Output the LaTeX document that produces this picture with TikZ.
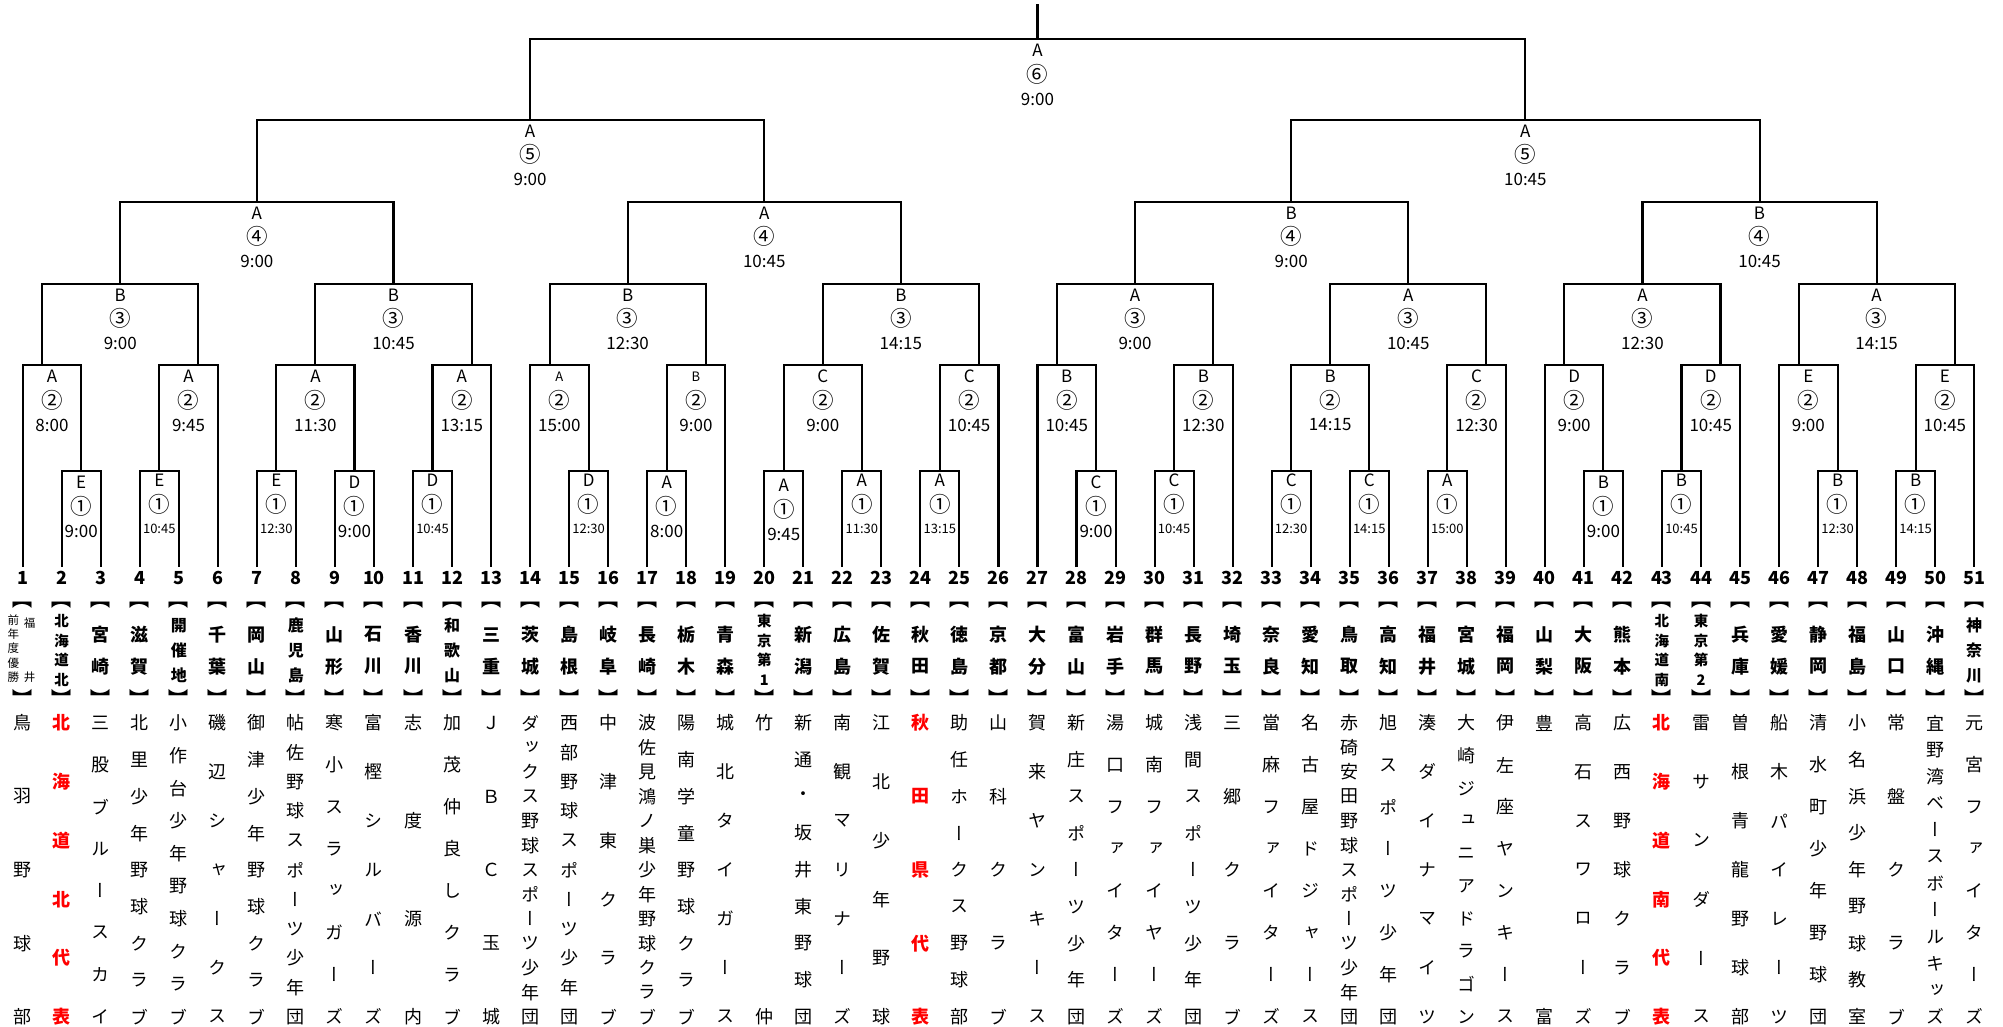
\documentclass[tikz,border=0pt]{standalone}
\usepackage{fontspec}
\setmainfont{Noto Sans CJK JP}
\newfontfamily\jpv[RawFeature=+vert]{Noto Sans CJK JP}
\tikzset{
  bline/.style={line width=2.1pt, line join=miter},
  lab/.style={inner sep=0pt, font=\fontsize{17}{17}\selectfont},
  labs/.style={inner sep=0pt, font=\fontsize{13}{13}\selectfont},
  circ/.style={inner sep=0pt, font=\fontsize{21.5}{21.5}\selectfont},
  num/.style={inner sep=0pt, font=\bfseries\fontsize{18}{18}\selectfont},
  pref/.style={inner sep=0pt, font=\jpv\bfseries\fontsize{18}{18}\selectfont},
  prefm/.style={inner sep=0pt, font=\jpv\bfseries\fontsize{16}{16}\selectfont},
  prefs/.style={inner sep=0pt, font=\jpv\bfseries\fontsize{14.5}{14.5}\selectfont},
  brk/.style={inner sep=0pt, font=\jpv\bfseries\fontsize{20}{20}\selectfont},
  tname/.style={inner sep=0pt, font=\jpv\fontsize{18}{18}\selectfont},
  tred/.style={inner sep=0pt, text=red, font=\jpv\bfseries\fontsize{18}{18}\selectfont},
  pnote/.style={inner sep=0pt, font=\jpv\fontsize{11.5}{12}\selectfont}
}
\newcommand\Hx[1]{22.7+19.515*(#1)}
\newcommand\Brk[6]{%
  \coordinate (#1-a) at ({\Hx{#2}},#5);
  \coordinate (#1-b) at ({\Hx{#3}},#6);
  \coordinate (#1-c) at ({\Hx{#3}},#4);
  \draw[bline] (#1-a) |- (#1-c) -- (#1-b);
}
\newcommand\Lbl[8]{%
  \node[#8] (#1-l) at ({\Hx{#2}},{#3+11.5}) {#4};
  \node[circ] (#1-o) at ({\Hx{#2}},{#3+35}) {#5};
  \node[#7] (#1-t) at ({\Hx{#2}},{#3+60}) {#6};
}
\newcommand\Pref[4]{%
  \foreach \c [count=\k] in {#4} {\xdef\npref{\k}}
  \foreach \c [count=\k] in {#4} {
    \node[#3] (p#1-\k) at ({\Hx{2*#1-2}},{650.5+#2*(\k-(\npref+1)/2)}) {\c};
  }
  \node[brk] (bo#1) at ({\Hx{2*#1-2}},605) {︻};
  \node[brk] (bc#1) at ({\Hx{2*#1-2}},698) {︼};
}
\newcommand\TName[3]{%
  \foreach \c [count=\k] in {#3} {\xdef\nname{\k}}
  \foreach \c [count=\k] in {#3} {
    \node[#2] (n#1-\k) at ({\Hx{2*#1-2}},{723+293.7*(\k-1)/(\nname-1)}) {\c};
  }
}
\begin{document}
\begin{tikzpicture}[x=1pt,y=-1pt]
\useasboundingbox (0,0) rectangle (2003,1026);
\fill[white] (0,0) rectangle (2003,1026);
% ---------- final ----------
\coordinate (champ) at ({\Hx{52}},4);
\coordinate (Fm) at ({\Hx{52}},39);
\draw[bline] (champ) -- (Fm);
\Brk{F}{26}{77}{39}{119.7}{119.7}
\Lbl{F}{52}{39}{A}{⑥}{9:00}{lab}{lab}
% ---------- round 5 ----------
\Brk{R5a}{12}{38}{119.7}{201.7}{201.7}
\Brk{R5b}{65}{89}{119.7}{201.7}{201.7}
\Lbl{R5a}{26}{119.7}{A}{⑤}{9:00}{lab}{lab}
\Lbl{R5b}{77}{119.7}{A}{⑤}{10:45}{lab}{lab}
% ---------- round 4 ----------
\Brk{R4a}{5}{19}{201.7}{283.7}{283.7}
\Brk{R4b}{31}{45}{201.7}{283.7}{283.7}
\Brk{R4c}{57}{71}{201.7}{283.7}{283.7}
\Brk{R4d}{83}{95}{201.7}{283.7}{283.7}
\Lbl{R4a}{12}{201.7}{A}{④}{9:00}{lab}{lab}
\Lbl{R4b}{38}{201.7}{A}{④}{10:45}{lab}{lab}
\Lbl{R4c}{65}{201.7}{B}{④}{9:00}{lab}{lab}
\Lbl{R4d}{89}{201.7}{B}{④}{10:45}{lab}{lab}
% ---------- round 3 ----------
\Brk{R3a}{1}{9}{283.7}{365}{365}
\Brk{R3b}{15}{23}{283.7}{365}{365}
\Brk{R3c}{27}{35}{283.7}{365}{365}
\Brk{R3d}{41}{49}{283.7}{365}{365}
\Brk{R3e}{53}{61}{283.7}{365}{365}
\Brk{R3f}{67}{75}{283.7}{365}{365}
\Brk{R3g}{79}{87}{283.7}{365}{365}
\Brk{R3h}{91}{99}{283.7}{365}{365}
\Lbl{R3a}{5}{283.7}{B}{③}{9:00}{lab}{lab}
\Lbl{R3b}{19}{283.7}{B}{③}{10:45}{lab}{lab}
\Lbl{R3c}{31}{283.7}{B}{③}{12:30}{lab}{lab}
\Lbl{R3d}{45}{283.7}{B}{③}{14:15}{lab}{lab}
\Lbl{R3e}{57}{283.7}{A}{③}{9:00}{lab}{lab}
\Lbl{R3f}{71}{283.7}{A}{③}{10:45}{lab}{lab}
\Lbl{R3g}{83}{283.7}{A}{③}{12:30}{lab}{lab}
\Lbl{R3h}{95}{283.7}{A}{③}{14:15}{lab}{lab}
% ---------- round 2 ----------
\Brk{R2a}{0}{3}{365}{567}{471}
\Brk{R2b}{7}{10}{365}{471}{567}
\Brk{R2c}{13}{17}{365}{471}{471}
\Brk{R2d}{21}{24}{365}{471}{567}
\Brk{R2e}{26}{29}{365}{567}{471}
\Brk{R2f}{33}{36}{365}{471}{567}
\Brk{R2g}{39}{43}{365}{471}{471}
\Brk{R2h}{47}{50}{365}{471}{567}
\Brk{R2i}{52}{55}{365}{567}{471}
\Brk{R2j}{59}{62}{365}{471}{567}
\Brk{R2k}{65}{69}{365}{471}{471}
\Brk{R2l}{73}{76}{365}{471}{567}
\Brk{R2m}{78}{81}{365}{567}{471}
\Brk{R2n}{85}{88}{365}{471}{567}
\Brk{R2o}{90}{93}{365}{567}{471}
\Brk{R2p}{97}{100}{365}{471}{567}
\Lbl{R2a}{1.5}{365}{A}{②}{8:00}{lab}{lab}
\Lbl{R2b}{8.5}{365}{A}{②}{9:45}{lab}{lab}
\Lbl{R2c}{15}{365}{A}{②}{11:30}{lab}{lab}
\Lbl{R2d}{22.5}{365}{A}{②}{13:15}{lab}{lab}
\Lbl{R2e}{27.5}{365}{A}{②}{15:00}{lab}{labs}
\Lbl{R2f}{34.5}{365}{B}{②}{9:00}{lab}{labs}
\Lbl{R2g}{41}{365}{C}{②}{9:00}{lab}{lab}
\Lbl{R2h}{48.5}{365}{C}{②}{10:45}{lab}{lab}
\Lbl{R2i}{53.5}{365}{B}{②}{10:45}{lab}{lab}
\Lbl{R2j}{60.5}{365}{B}{②}{12:30}{lab}{lab}
\Lbl{R2k}{67}{365}{B}{②}{14:15}{lab}{lab}
\Lbl{R2l}{74.5}{365}{C}{②}{12:30}{lab}{lab}
\Lbl{R2m}{79.5}{365}{D}{②}{9:00}{lab}{lab}
\Lbl{R2n}{86.5}{365}{D}{②}{10:45}{lab}{lab}
\Lbl{R2o}{91.5}{365}{E}{②}{9:00}{lab}{lab}
\Lbl{R2p}{98.5}{365}{E}{②}{10:45}{lab}{lab}
% ---------- round 1 ----------
\Brk{R1a}{2}{4}{471}{567}{567}
\Brk{R1b}{6}{8}{471}{567}{567}
\Brk{R1c}{12}{14}{471}{567}{567}
\Brk{R1d}{16}{18}{471}{567}{567}
\Brk{R1e}{20}{22}{471}{567}{567}
\Brk{R1f}{28}{30}{471}{567}{567}
\Brk{R1g}{32}{34}{471}{567}{567}
\Brk{R1h}{38}{40}{471}{567}{567}
\Brk{R1i}{42}{44}{471}{567}{567}
\Brk{R1j}{46}{48}{471}{567}{567}
\Brk{R1k}{54}{56}{471}{567}{567}
\Brk{R1l}{58}{60}{471}{567}{567}
\Brk{R1m}{64}{66}{471}{567}{567}
\Brk{R1n}{68}{70}{471}{567}{567}
\Brk{R1o}{72}{74}{471}{567}{567}
\Brk{R1p}{80}{82}{471}{567}{567}
\Brk{R1q}{84}{86}{471}{567}{567}
\Brk{R1r}{92}{94}{471}{567}{567}
\Brk{R1s}{96}{98}{471}{567}{567}
\Lbl{R1a}{3}{471}{E}{①}{9:00}{lab}{lab}
\Lbl{R1b}{7}{469}{E}{①}{10:45}{labs}{lab}
\Lbl{R1c}{13}{469}{E}{①}{12:30}{labs}{lab}
\Lbl{R1d}{17}{471}{D}{①}{9:00}{lab}{lab}
\Lbl{R1e}{21}{469}{D}{①}{10:45}{labs}{lab}
\Lbl{R1f}{29}{469}{D}{①}{12:30}{labs}{lab}
\Lbl{R1g}{33}{471}{A}{①}{8:00}{lab}{lab}
\Lbl{R1h}{39}{474}{A}{①}{9:45}{lab}{lab}
\Lbl{R1i}{43}{469}{A}{①}{11:30}{labs}{lab}
\Lbl{R1j}{47}{469}{A}{①}{13:15}{labs}{lab}
\Lbl{R1k}{55}{471}{C}{①}{9:00}{lab}{lab}
\Lbl{R1l}{59}{469}{C}{①}{10:45}{labs}{lab}
\Lbl{R1m}{65}{469}{C}{①}{12:30}{labs}{lab}
\Lbl{R1n}{69}{469}{C}{①}{14:15}{labs}{lab}
\Lbl{R1o}{73}{469}{A}{①}{15:00}{labs}{lab}
\Lbl{R1p}{81}{471}{B}{①}{9:00}{lab}{lab}
\Lbl{R1q}{85}{469}{B}{①}{10:45}{labs}{lab}
\Lbl{R1r}{93}{469}{B}{①}{12:30}{labs}{lab}
\Lbl{R1s}{97}{469}{B}{①}{14:15}{labs}{lab}
% ---------- team numbers ----------
\foreach \i in {1,...,51} {\node[num] (num\i) at ({\Hx{2*\i-2}},578) {\i};}
% ---------- prefectures ----------
\foreach \c [count=\k] in {前,年,度,優,勝} {\node[pnote] (pz\k) at (13.3,{620+14.25*(\k-1)}) {\c};}
\node[pnote] (pf1) at (29.5,623) {福};
\node[pnote] (pf2) at (29.5,677) {井};
\node[brk] (bo1) at ({\Hx{0}},605) {︻};
\node[brk] (bc1) at ({\Hx{0}},698) {︼};
\Pref{2}{19.7}{prefs}{北,海,道,北}
\Pref{3}{31.7}{pref}{宮,崎}
\Pref{4}{31.7}{pref}{滋,賀}
\Pref{5}{25}{prefm}{開,催,地}
\Pref{6}{31.7}{pref}{千,葉}
\Pref{7}{31.7}{pref}{岡,山}
\Pref{8}{25}{prefm}{鹿,児,島}
\Pref{9}{31.7}{pref}{山,形}
\Pref{10}{31.7}{pref}{石,川}
\Pref{11}{31.7}{pref}{香,川}
\Pref{12}{25}{prefm}{和,歌,山}
\Pref{13}{31.7}{pref}{三,重}
\Pref{14}{31.7}{pref}{茨,城}
\Pref{15}{31.7}{pref}{島,根}
\Pref{16}{31.7}{pref}{岐,阜}
\Pref{17}{31.7}{pref}{長,崎}
\Pref{18}{31.7}{pref}{栃,木}
\Pref{19}{31.7}{pref}{青,森}
\Pref{20}{19.7}{prefs}{東,京,第,1}
\Pref{21}{31.7}{pref}{新,潟}
\Pref{22}{31.7}{pref}{広,島}
\Pref{23}{31.7}{pref}{佐,賀}
\Pref{24}{31.7}{pref}{秋,田}
\Pref{25}{31.7}{pref}{徳,島}
\Pref{26}{31.7}{pref}{京,都}
\Pref{27}{31.7}{pref}{大,分}
\Pref{28}{31.7}{pref}{富,山}
\Pref{29}{31.7}{pref}{岩,手}
\Pref{30}{31.7}{pref}{群,馬}
\Pref{31}{31.7}{pref}{長,野}
\Pref{32}{31.7}{pref}{埼,玉}
\Pref{33}{31.7}{pref}{奈,良}
\Pref{34}{31.7}{pref}{愛,知}
\Pref{35}{31.7}{pref}{鳥,取}
\Pref{36}{31.7}{pref}{高,知}
\Pref{37}{31.7}{pref}{福,井}
\Pref{38}{31.7}{pref}{宮,城}
\Pref{39}{31.7}{pref}{福,岡}
\Pref{40}{31.7}{pref}{山,梨}
\Pref{41}{31.7}{pref}{大,阪}
\Pref{42}{31.7}{pref}{熊,本}
\Pref{43}{19.7}{prefs}{北,海,道,南}
\Pref{44}{19.7}{prefs}{東,京,第,2}
\Pref{45}{31.7}{pref}{兵,庫}
\Pref{46}{31.7}{pref}{愛,媛}
\Pref{47}{31.7}{pref}{静,岡}
\Pref{48}{31.7}{pref}{福,島}
\Pref{49}{31.7}{pref}{山,口}
\Pref{50}{31.7}{pref}{沖,縄}
\Pref{51}{25}{prefm}{神,奈,川}
% ---------- team names ----------
\TName{1}{tname}{鳥,羽,野,球,部}
\TName{2}{tred}{北,海,道,北,代,表}
\TName{3}{tname}{三,股,ブ,ル,ー,ス,カ,イ}
\TName{4}{tname}{北,里,少,年,野,球,ク,ラ,ブ}
\TName{5}{tname}{小,作,台,少,年,野,球,ク,ラ,ブ}
\TName{6}{tname}{磯,辺,シ,ャ,ー,ク,ス}
\TName{7}{tname}{御,津,少,年,野,球,ク,ラ,ブ}
\TName{8}{tname}{帖,佐,野,球,ス,ポ,ー,ツ,少,年,団}
\TName{9}{tname}{寒,小,ス,ラ,ッ,ガ,ー,ズ}
\TName{10}{tname}{富,樫,シ,ル,バ,ー,ズ}
\TName{11}{tname}{志,度,源,内}
\TName{12}{tname}{加,茂,仲,良,し,ク,ラ,ブ}
\TName{13}{tname}{Ｊ,Ｂ,Ｃ,玉,城}
\TName{14}{tname}{ダ,ッ,ク,ス,野,球,ス,ポ,ー,ツ,少,年,団}
\TName{15}{tname}{西,部,野,球,ス,ポ,ー,ツ,少,年,団}
\TName{16}{tname}{中,津,東,ク,ラ,ブ}
\TName{17}{tname}{波,佐,見,鴻,ノ,巣,少,年,野,球,ク,ラ,ブ}
\TName{18}{tname}{陽,南,学,童,野,球,ク,ラ,ブ}
\TName{19}{tname}{城,北,タ,イ,ガ,ー,ス}
\TName{20}{tname}{竹,仲}
\TName{21}{tname}{新,通,・,坂,井,東,野,球,団}
\TName{22}{tname}{南,観,マ,リ,ナ,ー,ズ}
\TName{23}{tname}{江,北,少,年,野,球}
\TName{24}{tred}{秋,田,県,代,表}
\TName{25}{tname}{助,任,ホ,ー,ク,ス,野,球,部}
\TName{26}{tname}{山,科,ク,ラ,ブ}
\TName{27}{tname}{賀,来,ヤ,ン,キ,ー,ス}
\TName{28}{tname}{新,庄,ス,ポ,ー,ツ,少,年,団}
\TName{29}{tname}{湯,口,フ,ァ,イ,タ,ー,ズ}
\TName{30}{tname}{城,南,フ,ァ,イ,ヤ,ー,ズ}
\TName{31}{tname}{浅,間,ス,ポ,ー,ツ,少,年,団}
\TName{32}{tname}{三,郷,ク,ラ,ブ}
\TName{33}{tname}{當,麻,フ,ァ,イ,タ,ー,ズ}
\TName{34}{tname}{名,古,屋,ド,ジ,ャ,ー,ス}
\TName{35}{tname}{赤,碕,安,田,野,球,ス,ポ,ー,ツ,少,年,団}
\TName{36}{tname}{旭,ス,ポ,ー,ツ,少,年,団}
\TName{37}{tname}{湊,ダ,イ,ナ,マ,イ,ツ}
\TName{38}{tname}{大,崎,ジ,ュ,ニ,ア,ド,ラ,ゴ,ン}
\TName{39}{tname}{伊,左,座,ヤ,ン,キ,ー,ス}
\TName{40}{tname}{豊,富}
\TName{41}{tname}{高,石,ス,ワ,ロ,ー,ズ}
\TName{42}{tname}{広,西,野,球,ク,ラ,ブ}
\TName{43}{tred}{北,海,道,南,代,表}
\TName{44}{tname}{雷,サ,ン,ダ,ー,ス}
\TName{45}{tname}{曽,根,青,龍,野,球,部}
\TName{46}{tname}{船,木,パ,イ,レ,ー,ツ}
\TName{47}{tname}{清,水,町,少,年,野,球,団}
\TName{48}{tname}{小,名,浜,少,年,野,球,教,室}
\TName{49}{tname}{常,盤,ク,ラ,ブ}
\TName{50}{tname}{宜,野,湾,ベ,ー,ス,ボ,ー,ル,キ,ッ,ズ}
\TName{51}{tname}{元,宮,フ,ァ,イ,タ,ー,ズ}
\end{tikzpicture}
\end{document}
